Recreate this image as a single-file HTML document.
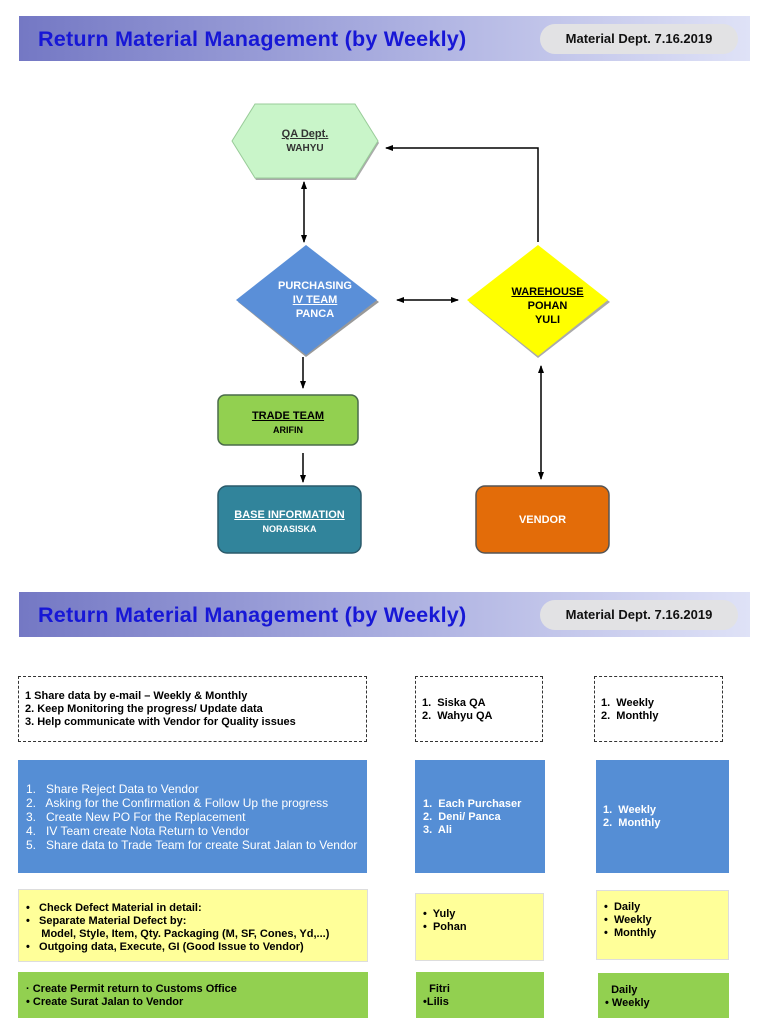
<!DOCTYPE html>
<html><head><style>
body{margin:0;width:768px;height:1024px;position:relative;background:#fff;font-family:"Liberation Sans",sans-serif;overflow:hidden}
.hdr{position:absolute;left:19px;width:731px;height:45px;background:linear-gradient(90deg,#7478c4 0%,#a9addf 50%,#dfe2f7 100%)}
.hdr .t{position:absolute;left:19px;top:10px;font-size:21.6px;font-weight:bold;color:#1717d6;letter-spacing:0.2px}
.hdr .p{position:absolute;left:521px;top:8px;width:198px;height:30px;border-radius:15px;background:#e2e2e4;font-size:13px;line-height:30px;text-align:center;color:#111;font-weight:bold}
.b{position:absolute;box-sizing:border-box;font-size:11px;font-weight:bold;color:#000;line-height:13px}
.d{border:1.5px dashed #333}
.bl{background:#558ed5;color:#fff}
.ye{background:#ffff99;border:1px solid #ddd}
.gr{background:#92d050}
.lab{position:absolute;text-align:center;font-size:11px;font-weight:bold;line-height:14px}
</style></head><body>
<div class="hdr" style="top:16px"><div class="t">Return Material Management (by Weekly)</div><div class="p">Material Dept. 7.16.2019</div></div>
<div class="hdr" style="top:592px"><div class="t">Return Material Management (by Weekly)</div><div class="p">Material Dept. 7.16.2019</div></div>

<svg width="768" height="600" style="position:absolute;left:0;top:0">
<defs><marker id="a" markerUnits="userSpaceOnUse" markerWidth="8" markerHeight="8" refX="7" refY="4" orient="auto-start-reverse"><path d="M0,1 L8,4 L0,7 z" fill="#000"/></marker></defs>
<polygon points="256,106 356,106 379,143 356,180 256,180 233,143" fill="#aaa"/>
<polygon points="255,104 355,104 378,141 355,178 255,178 232,141" fill="#c9f5c9" stroke="#9c9" stroke-width="1"/>
<polygon points="306,247 379,302 306,357 238,302" fill="#999"/>
<polygon points="306,245 377,300 306,355 236,300" fill="#5a8fd8"/>
<polygon points="538,247 610,302 538,358 469,302" fill="#aaa"/>
<polygon points="538,245 608,300 538,356 467,300" fill="#ffff00"/>
<rect x="218" y="395" width="140" height="50" rx="7" fill="#92d050" stroke="#4a6b4a" stroke-width="1.5"/>
<rect x="218" y="486" width="143" height="67" rx="9" fill="#31849b" stroke="#2a5a6a" stroke-width="1.5"/>
<rect x="476" y="486" width="133" height="67" rx="9" fill="#e36c09" stroke="#555" stroke-width="1.5"/>
<g stroke="#000" stroke-width="1.5" fill="none">
<line x1="304" y1="182" x2="304" y2="242" marker-start="url(#a)" marker-end="url(#a)"/>
<polyline points="538,242 538,148 386,148" marker-end="url(#a)"/>
<line x1="397" y1="300" x2="458" y2="300" marker-start="url(#a)" marker-end="url(#a)"/>
<line x1="303" y1="357" x2="303" y2="388" marker-end="url(#a)"/>
<line x1="303" y1="453" x2="303" y2="482" marker-end="url(#a)"/>
<line x1="541" y1="366" x2="541" y2="479" marker-start="url(#a)" marker-end="url(#a)"/>
</g>
</svg>
<div class="lab" style="left:232px;top:127px;width:146px;color:#333"><u>QA Dept.</u><br><span style="font-size:10px">WAHYU</span></div>
<div class="lab" style="left:260px;top:279px;width:110px;color:#fff">PURCHASING<br><u>IV TEAM</u><br>PANCA</div>
<div class="lab" style="left:500px;top:285px;width:95px;color:#000"><u>WAREHOUSE</u><br>POHAN<br>YULI</div>
<div class="lab" style="left:218px;top:409px;width:140px;color:#000"><u>TRADE TEAM</u><br><span style="font-size:9px">ARIFIN</span></div>
<div class="lab" style="left:218px;top:508px;width:143px;color:#fff"><u>BASE INFORMATION</u><br><span style="font-size:9px">NORASISKA</span></div>
<div class="lab" style="left:476px;top:513px;width:133px;color:#fff">VENDOR</div>

<div class="b d" style="left:18px;top:676px;width:349px;height:66px;padding:13px 0 0 6px">1 Share data by e-mail – Weekly &amp; Monthly<br>2. Keep Monitoring the progress/ Update data<br>3. Help communicate with Vendor for Quality issues</div>
<div class="b d" style="left:415px;top:676px;width:128px;height:66px;padding:20px 0 0 6px">1.&nbsp; Siska QA<br>2.&nbsp; Wahyu QA</div>
<div class="b d" style="left:594px;top:676px;width:129px;height:66px;padding:20px 0 0 6px">1.&nbsp; Weekly<br>2.&nbsp; Monthly</div>

<div class="b bl" style="left:18px;top:760px;width:349px;height:113px;padding:22px 0 0 8px;font-weight:normal;font-size:12px;line-height:14px">1.&nbsp;&nbsp; Share Reject Data to Vendor<br>2.&nbsp;&nbsp; Asking for the Confirmation &amp; Follow Up the progress<br>3.&nbsp;&nbsp; Create New PO For the Replacement<br>4.&nbsp;&nbsp; IV Team create Nota Return to Vendor<br>5.&nbsp;&nbsp; Share data to Trade Team for create Surat Jalan to Vendor</div>
<div class="b bl" style="left:415px;top:760px;width:130px;height:113px;padding:38px 0 0 8px">1.&nbsp; Each Purchaser<br>2.&nbsp; Deni/ Panca<br>3.&nbsp; Ali</div>
<div class="b bl" style="left:596px;top:760px;width:133px;height:113px;padding:44px 0 0 7px">1.&nbsp; Weekly<br>2.&nbsp; Monthly</div>

<div class="b ye" style="left:18px;top:889px;width:350px;height:73px;padding:12px 0 0 7px">•&nbsp;&nbsp; Check Defect Material in detail:<br>•&nbsp;&nbsp; Separate Material Defect by:<br>&nbsp;&nbsp;&nbsp;&nbsp; Model, Style, Item, Qty. Packaging (M, SF, Cones, Yd,...)<br>•&nbsp;&nbsp; Outgoing data, Execute, GI (Good Issue to Vendor)</div>
<div class="b ye" style="left:415px;top:893px;width:129px;height:68px;padding:14px 0 0 7px">•&nbsp; Yuly<br>•&nbsp; Pohan</div>
<div class="b ye" style="left:596px;top:890px;width:133px;height:70px;padding:10px 0 0 7px">•&nbsp; Daily<br>•&nbsp; Weekly<br>•&nbsp; Monthly</div>

<div class="b gr" style="left:18px;top:972px;width:350px;height:46px;padding:11px 0 0 8px">· Create Permit return to Customs Office<br>• Create Surat Jalan to Vendor</div>
<div class="b gr" style="left:416px;top:972px;width:128px;height:46px;padding:11px 0 0 7px">&nbsp; Fitri<br>•Lilis</div>
<div class="b gr" style="left:598px;top:973px;width:131px;height:45px;padding:11px 0 0 7px">&nbsp; Daily<br>• Weekly</div>
</body></html>
